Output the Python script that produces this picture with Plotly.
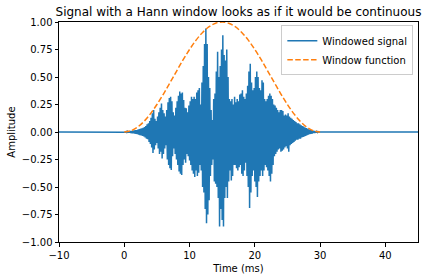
import numpy as np
import plotly.graph_objects as go

# Windowed signal samples (every 0.1 ms from 0 to 30 ms)
signal_values = [
    0.0, 0.002, -0.003, 0.004, -0.004, 0.005, -0.006, 0.006, -0.007, 0.008,
    -0.009, 0.01, -0.011, 0.012, -0.013, 0.014, -0.015, 0.016, -0.017, 0.018,
    -0.02, 0.022, -0.024, 0.026, -0.028, 0.03, -0.032, 0.034, -0.036, 0.038,
    -0.04, 0.045, -0.05, 0.055, -0.06, 0.07, -0.065, 0.08, -0.09, 0.1,
    -0.11, 0.13, -0.14, 0.17, -0.19, 0.2, -0.16, 0.12, -0.12, 0.1,
    -0.1, 0.14, -0.15, 0.18, -0.2, 0.22, -0.18, 0.26, -0.24, 0.2,
    -0.2, 0.17, -0.15, 0.14, -0.12, 0.2, -0.25, 0.27, -0.3, 0.31,
    -0.33, 0.32, -0.345, 0.28, -0.22, 0.18, -0.15, 0.15, -0.2, 0.22,
    -0.25, 0.28, -0.3, 0.33, -0.36, 0.367, -0.38, 0.35, -0.39, 0.36,
    -0.3, 0.29, -0.25, 0.22, -0.28, 0.215, -0.2, 0.18, -0.22, 0.24,
    -0.26, 0.28, -0.3, 0.32, -0.35, 0.3, -0.38, 0.32, -0.41, 0.3,
    -0.35, 0.36, -0.4, 0.38, -0.37, 0.4, -0.3, 0.25, -0.35, 0.45,
    -0.5, 0.6, -0.55, 0.8, -0.7, 0.94, -0.83, 0.8, -0.75, 0.5,
    -0.62, 0.4, -0.4, 0.2, -0.3, 0.11, -0.25, 0.3, -0.45, 0.35,
    -0.47, 0.55, -0.5, 0.73, -0.6, 0.5, -0.86, 0.6, -0.7, 0.75,
    -0.8, 0.88, -0.86, 0.7, -0.6, 0.65, -0.5, 0.75, -0.6, 0.5,
    -0.45, 0.3, -0.35, 0.28, -0.44, 0.3, -0.4, 0.25, -0.3, 0.32,
    -0.3, 0.27, -0.33, 0.3, -0.35, 0.28, -0.32, 0.34, -0.3, 0.35,
    -0.38, 0.38, -0.4, 0.32, -0.35, 0.3, -0.28, 0.35, -0.4, 0.42,
    -0.5, 0.55, -0.69, 0.62, -0.55, 0.45, -0.4, 0.38, -0.35, 0.4,
    -0.45, 0.5, -0.5, 0.55, -0.59, 0.5, -0.45, 0.4, -0.4, 0.38,
    -0.35, 0.47, -0.4, 0.45, -0.35, 0.3, -0.3, 0.28, -0.32, 0.3,
    -0.35, 0.33, -0.4, 0.35, -0.45, 0.33, -0.38, 0.3, -0.3, 0.25,
    -0.22, 0.24, -0.2, 0.22, -0.18, 0.2, -0.16, 0.18, -0.15, 0.2,
    -0.18, 0.2, -0.17, 0.19, -0.16, 0.15, -0.14, 0.16, -0.13, 0.15,
    -0.15, 0.17, -0.18, 0.14, -0.12, 0.13, -0.11, 0.12, -0.1, 0.11,
    -0.09, 0.1, -0.08, 0.09, -0.07, 0.08, -0.07, 0.08, -0.06, 0.07,
    -0.06, 0.06, -0.05, 0.055, -0.045, 0.05, -0.04, 0.04, -0.035, 0.035,
    -0.03, 0.03, -0.025, 0.025, -0.02, 0.02, -0.018, 0.016, -0.014, 0.012,
    -0.01, 0.009, -0.008, 0.007, -0.006, 0.005, -0.004, 0.003, -0.002, 0.001,
    0.0,
]
signal_step_ms = 0.1
signal_start_ms = 0.0
pad_before = [-10.0]
pad_after = [45.0]

# Window function values, every 1 ms from 0 to 30 ms
window_values = [
    0.0, 0.011, 0.043, 0.095, 0.165, 0.25, 0.345, 0.448, 0.552, 0.655,
    0.75, 0.835, 0.905, 0.957, 0.989, 1.0, 0.989, 0.957, 0.905, 0.835,
    0.75, 0.655, 0.552, 0.448, 0.345, 0.25, 0.165, 0.095, 0.043, 0.011, 0.0,
]
window_step_ms = 1.0

x_ticks = [-10, 0, 10, 20, 30, 40]
x_ticktext = ["\u221210", "0", "10", "20", "30", "40"]
y_ticks = [-1.0, -0.75, -0.5, -0.25, 0.0, 0.25, 0.5, 0.75, 1.0]
y_ticktext = ["\u22121.00", "\u22120.75", "\u22120.50", "\u22120.25", "0.00", "0.25", "0.50", "0.75", "1.00"]

t_sig = signal_start_ms + signal_step_ms * np.arange(len(signal_values))
t_full = np.concatenate([pad_before, t_sig, pad_after])
y_full = np.concatenate([[0.0], signal_values, [0.0]])
t_win = window_step_ms * np.arange(len(window_values))

font = "DejaVu Sans"
fig = go.Figure()
fig.add_trace(go.Scatter(x=t_full, y=y_full, mode="lines", name="Windowed signal",
                         line=dict(color="#1f77b4", width=1.5)))
fig.add_trace(go.Scatter(x=t_win, y=window_values, mode="lines", name="Window function",
                         line=dict(color="#ff7f0e", width=1.5, dash="5.5px,2.4px"),
                         line_shape="spline"))

axis_common = dict(showgrid=False, zeroline=False, showline=True, mirror=True,
                   linecolor="black", linewidth=1, ticks="outside", ticklen=3.5,
                   tickcolor="black", tickwidth=1, automargin=False,
                   tickfont=dict(family=font, size=10, color="black"))
fig.update_xaxes(range=[-10, 45], tickvals=x_ticks, ticktext=x_ticktext,
                 title=dict(text="Time (ms)", font=dict(family=font, size=10, color="black"), standoff=5),
                 **axis_common)
fig.update_yaxes(range=[-1, 1], tickvals=y_ticks, ticktext=y_ticktext,
                 title=dict(text="Amplitude", font=dict(family=font, size=10, color="black"), standoff=4),
                 **axis_common)
fig.update_layout(
    width=429, height=280,
    margin=dict(l=59, r=11, t=22, b=38),
    plot_bgcolor="white", paper_bgcolor="white",
    title=dict(text="Signal with a Hann window looks as if it would be continuous",
               x=(59 + 418) / 2 / 429, xanchor="center", y=1 - 12 / 280, yanchor="middle",
               font=dict(family=font, size=12, color="black")),
    legend=dict(x=0.987, y=0.985, xanchor="right", yanchor="top",
                bordercolor="#cccccc", borderwidth=1, bgcolor="rgba(255,255,255,0.8)",
                font=dict(family=font, size=10, color="black"), tracegroupgap=0),
    showlegend=True,
)
fig.write_html("out.html")
